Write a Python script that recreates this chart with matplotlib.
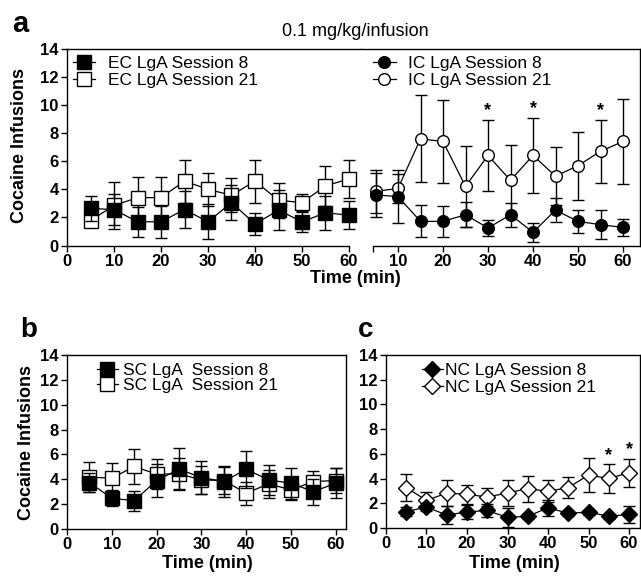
import matplotlib
matplotlib.use("Agg")
import matplotlib.pyplot as plt
from matplotlib.lines import Line2D

plt.rcParams['font.family'] = ['Liberation Sans', 'DejaVu Sans']

W, H = 641, 579

TIME = [5, 10, 15, 20, 25, 30, 35, 40, 45, 50, 55, 60]

# panel a, left half (EC)
ec_s8 = [2.64, 2.56, 1.69, 1.69, 2.56, 1.69, 3.06, 1.53, 2.52, 1.69, 2.33, 2.16]
ec_s8_err = [0.9, 1.1, 1.05, 1.13, 1.3, 1.24, 1.25, 0.8, 1.45, 0.7, 1.23, 1.0]
ec_s21 = [1.78, 2.85, 3.41, 3.41, 4.59, 4.0, 3.58, 4.59, 3.22, 3.06, 4.24, 4.75]
ec_s21_err = [0.4, 1.65, 1.5, 1.46, 1.53, 1.18, 1.22, 1.53, 1.25, 0.63, 1.4, 1.37]

# panel a, right half (IC)
ic_s8 = [3.61, 3.48, 1.72, 1.72, 2.19, 1.25, 2.19, 0.94, 2.52, 1.72, 1.48, 1.29]
ic_s8_err = [1.56, 1.9, 1.15, 1.08, 0.9, 0.6, 0.85, 0.66, 0.86, 0.83, 1.03, 0.61]
ic_s21 = [3.85, 4.07, 7.6, 7.41, 4.21, 6.42, 4.64, 6.42, 4.94, 5.69, 6.71, 7.41]
ic_s21_err = [1.56, 1.05, 3.1, 2.95, 2.9, 2.55, 2.53, 2.68, 2.07, 2.43, 2.25, 3.0]
ic_stars = [30, 40, 55]

# panel b (SC)
sc_s8 = [3.74, 2.47, 2.28, 3.9, 4.81, 4.14, 3.82, 4.81, 3.95, 3.68, 3.01, 3.68]
sc_s8_err = [0.8, 0.65, 0.8, 1.3, 1.7, 1.35, 1.25, 1.5, 1.2, 1.25, 1.05, 1.2]
sc_s21 = [4.17, 4.09, 5.03, 4.41, 4.44, 3.95, 3.9, 2.88, 3.63, 3.15, 3.82, 3.9]
sc_s21_err = [1.2, 1.26, 1.4, 1.2, 1.25, 1.1, 1.1, 0.94, 1.1, 0.8, 0.85, 1.0]

# panel c (NC)
nc_s8 = [1.33, 1.69, 1.05, 1.3, 1.42, 0.85, 0.95, 1.63, 1.2, 1.28, 0.95, 1.1]
nc_s8_err = [0.35, 0.35, 0.7, 0.6, 0.55, 0.8, 0.2, 0.65, 0.2, 0.2, 0.2, 0.7]
nc_s21 = [3.27, 2.23, 2.83, 2.72, 2.51, 2.83, 3.19, 2.97, 3.27, 4.28, 4.01, 4.47]
nc_s21_err = [1.1, 0.7, 1.05, 0.8, 0.75, 1.05, 1.05, 0.9, 0.85, 1.4, 1.15, 1.15]
nc_stars = [55, 60]

YTICKS = [0, 2, 4, 6, 8, 10, 12, 14]
XTICKS = [0, 10, 20, 30, 40, 50, 60]

TICK_FS = 12
LEG_FS = 12.5
LAB_FS = 13


def px_axes(fig, x0, x1, top, bot):
    return fig.add_axes([x0 / W, 1 - bot / H, (x1 - x0) / W, (bot - top) / H])


def style(ax):
    for sp in ax.spines.values():
        sp.set_linewidth(1.0)
    ax.tick_params(direction="out", length=4, width=1.0, labelsize=TICK_FS,
                   pad=2)
    for lab in ax.get_xticklabels() + ax.get_yticklabels():
        lab.set_fontweight("bold")
    ax.set_ylim(0, 14)
    ax.set_yticks(YTICKS)
    ax.set_yticklabels([str(v) for v in YTICKS], fontweight="bold")


def series(ax, y, err, marker, filled, ms, z):
    fc = "black" if filled else "white"
    ax.errorbar(TIME, y, yerr=err, color="black", lw=0.9, marker=marker,
                ms=ms, mfc=fc, mec="black", mew=1.0, elinewidth=1.0,
                capsize=4.6, capthick=1.6, zorder=z, clip_on=False)


def handle(marker, filled, ms):
    return Line2D([], [], color="black", lw=0.9, marker=marker, ms=ms,
                  mfc="black" if filled else "white", mec="black")


def add_legend(ax, labels, marker, ms, x, y, hl, pad, spacing):
    hs = [handle(marker, True, ms), handle(marker, False, ms)]
    ax.legend(hs, labels, loc="upper left", bbox_to_anchor=(x, y),
              frameon=False, fontsize=LEG_FS, handlelength=hl,
              handletextpad=pad, labelspacing=spacing, borderpad=0,
              borderaxespad=0)


def stars(ax, times, y, err):
    for t in times:
        i = TIME.index(t)
        ax.text(t, y[i] + err[i] + 0.05, "*", ha="center", va="bottom",
                fontsize=13, fontweight="bold")


fig = plt.figure(figsize=(W / 100, H / 100), dpi=100)

# ---- panel a : two halves sharing a frame ----
axl = px_axes(fig, 67, 361, 49, 245.5)
axr = px_axes(fig, 361, 640, 49, 245.5)

axl.set_xlim(0, 294 / 4.7)
axl.spines["right"].set_visible(False)
axl.spines["bottom"].set_bounds(0, 60)
axl.set_xticks(XTICKS)
axl.set_xticklabels([str(v) for v in XTICKS])
series(axl, ec_s21, ec_s21_err, "s", False, 9.6, 3)
series(axl, ec_s8, ec_s8_err, "s", True, 9.6, 4)
style(axl)
add_legend(axl, ["EC LgA Session 8", "EC LgA Session 21"], "s", 9.6,
           0.02, 0.965, 1.3, 0.7, 0.12)

r0 = (361 - 353) / 4.5
axr.set_xlim(r0, (640 - 353) / 4.5)
axr.spines["left"].set_visible(False)
axr.spines["bottom"].set_bounds((373 - 353) / 4.5, (640 - 353) / 4.5)
axr.set_xticks([(373 - 353) / 4.5] + XTICKS[1:])
axr.set_xticklabels([""] + [str(v) for v in XTICKS[1:]])
series(axr, ic_s21, ic_s21_err, "o", False, 8.4, 3)
series(axr, ic_s8, ic_s8_err, "o", True, 8.4, 4)
stars(axr, ic_stars, ic_s21, ic_s21_err)
style(axr)
axr.set_yticks([])
add_legend(axr, ["IC LgA Session 8", "IC LgA Session 21"], "o", 8.4,
           0.043, 0.965, 1.3, 0.7, 0.12)

fig.text(355 / W, 1 - 31 / H, "0.1 mg/kg/infusion", ha="center",
         va="center", fontsize=13)
fig.text(355 / W, 1 - 278 / H, "Time (min)", ha="center", va="center",
         fontsize=LAB_FS, fontweight="bold")
fig.text(20 / W, 1 - 145 / H, "Cocaine Infusions", ha="center", va="center",
         rotation=90, fontsize=LAB_FS, fontweight="bold")
fig.text(12 / W, 1 - 32 / H, "a", va="baseline", fontsize=21,
         fontweight="bold")

# ---- panel b ----
axb = px_axes(fig, 67, 346, 355, 529)
axb.set_xlim(0, 279 / 4.48)
axb.set_xticks(XTICKS)
axb.set_xticklabels([str(v) for v in XTICKS])
series(axb, sc_s21, sc_s21_err, "s", False, 10, 3)
series(axb, sc_s8, sc_s8_err, "s", True, 10, 4)
style(axb)
add_legend(axb, ["SC LgA  Session 8", "SC LgA  Session 21"], "s", 10,
           0.107, 0.955, 1.2, 0.3, 0.0)
fig.text(207 / W, 1 - 563 / H, "Time (min)", ha="center", va="center",
         fontsize=LAB_FS, fontweight="bold")
fig.text(27 / W, 1 - 443 / H, "Cocaine Infusions", ha="center", va="center",
         rotation=90, fontsize=LAB_FS, fontweight="bold")
fig.text(20 / W, 1 - 337 / H, "b", va="baseline", fontsize=20,
         fontweight="bold")

# ---- panel c ----
axc = px_axes(fig, 386, 640, 355, 528)
axc.set_xlim(0, 254 / 4.05)
axc.set_xticks(XTICKS)
axc.set_xticklabels([str(v) for v in XTICKS])
series(axc, nc_s21, nc_s21_err, "D", False, 7.8, 3)
series(axc, nc_s8, nc_s8_err, "D", True, 7.8, 4)
stars(axc, nc_stars, nc_s21, nc_s21_err)
style(axc)
add_legend(axc, ["NC LgA Session 8", "NC LgA Session 21"], "D", 7.8,
           0.142, 0.955, 1.2, 0.1, 0.1)
fig.text(514 / W, 1 - 563 / H, "Time (min)", ha="center", va="center",
         fontsize=LAB_FS, fontweight="bold")
fig.text(358 / W, 1 - 337 / H, "c", va="baseline", fontsize=20,
         fontweight="bold")

fig.savefig("out.png", dpi=100)
